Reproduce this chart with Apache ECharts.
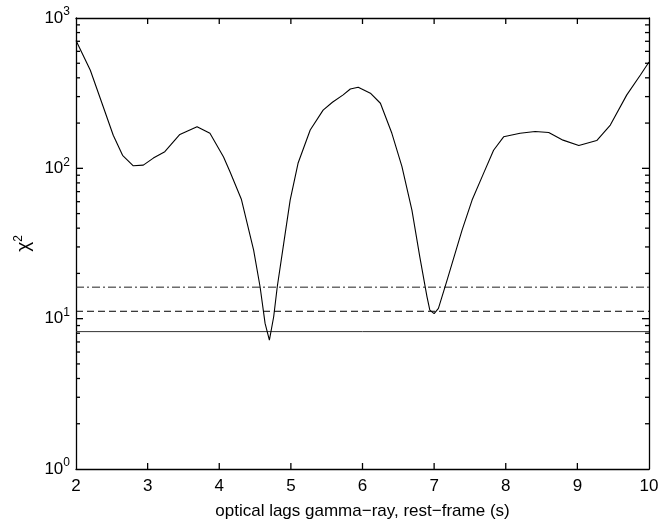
<!DOCTYPE html>
<html>
<head>
<meta charset="utf-8">
<script src="https://cdn.jsdelivr.net/npm/echarts@6/dist/echarts.min.js"></script>
<style>
  html, body { margin: 0; padding: 0; background: #fff; }
  #chart { width: 662px; height: 527px; }
</style>
</head>
<body>
<div id="chart"></div>
<script>
  // lag (s) and chi^2
  const lagX = [2.00, 2.20, 2.38, 2.52, 2.65, 2.80, 2.94, 3.08, 3.24, 3.45, 3.69, 3.87, 4.06, 4.15, 4.31, 4.48, 4.57, 4.64, 4.70, 4.76, 4.81, 4.90, 4.99, 5.10, 5.27, 5.45, 5.58, 5.73, 5.83, 5.94, 6.11, 6.25, 6.41, 6.55, 6.69, 6.80, 6.90, 6.94, 7.00, 7.06, 7.18, 7.39, 7.53, 7.69, 7.83, 7.97, 8.20, 8.41, 8.60, 8.80, 9.02, 9.27, 9.46, 9.69, 9.88, 10.0];
  const chi2 = [708, 449, 257, 166, 122, 104, 105, 117, 129, 168, 189, 171, 119, 95, 62, 28.6, 16.3, 9.3, 7.2, 10.3, 16.3, 31.7, 61.5, 108, 180, 244, 275, 308, 337, 346, 316, 271, 171, 103, 52.7, 25.8, 14, 11.4, 10.8, 11.7, 18, 38.8, 61.5, 92.6, 132, 162, 171, 176, 173, 154, 142, 153, 194, 308, 418, 510];

  // confidence levels (solid, dashed, dash-dot)
  const levels = [8.2, 11.2, 16.2];
  const xTicks = [2, 3, 4, 5, 6, 7, 8, 9, 10];
  const yMajor = [10, 100];
  const yMinor = [2, 3, 4, 5, 6, 7, 8, 9, 20, 30, 40, 50, 60, 70, 80, 90, 200, 300, 400, 500, 600, 700, 800, 900];

  const font = 'Liberation Sans, Arial, Helvetica, sans-serif';
  let chart = echarts.init(document.getElementById('chart'));

  const levelStyles = [
    { type: 'solid', color: '#333' },
    { type: [7, 4], color: '#000' },
    { type: [8, 3, 2, 3], color: '#222' }
  ];

  const xMin = xTicks[0], xMax = xTicks[xTicks.length - 1];
  const yMin = 1, yMax = 1000;

  const series = [
    {
      type: 'line',
      xAxisIndex: 0, yAxisIndex: 0,
      data: lagX.map((x, i) => [x, chi2[i]]),
      showSymbol: false,
      lineStyle: { color: '#000', width: 1.1 },
      z: 5
    }
  ];
  levels.forEach((v, i) => {
    series.push({
      type: 'line',
      xAxisIndex: 0, yAxisIndex: 0,
      data: [[xMin, v], [xMax, v]],
      showSymbol: false,
      lineStyle: { color: levelStyles[i].color, width: 1, type: levelStyles[i].type },
      z: 3
    });
  });

  const tickStyle = { stroke: '#000', lineWidth: 1.3 };

  // y ticks on left and right edges (major 7px, minor 4px)
  series.push({
    type: 'custom',
    coordinateSystem: 'cartesian2d',
    xAxisIndex: 0, yAxisIndex: 0,
    data: yMinor.map(v => [xMin, v]).concat(yMajor.map(v => [xMin, v])),
    renderItem: function (params, api) {
      let v = api.value(1);
      let len = params.dataIndex >= yMinor.length ? 7 : 4;
      let l = api.coord([xMin, v]);
      let r = api.coord([xMax, v]);
      return {
        type: 'group',
        children: [
          { type: 'line', shape: { x1: l[0], y1: l[1], x2: l[0] + len, y2: l[1] }, style: tickStyle },
          { type: 'line', shape: { x1: r[0], y1: r[1], x2: r[0] - len, y2: r[1] }, style: tickStyle }
        ]
      };
    },
    silent: true, clip: false,
    z: 6
  });
  // x ticks on bottom and top edges
  series.push({
    type: 'custom',
    coordinateSystem: 'cartesian2d',
    xAxisIndex: 0, yAxisIndex: 0,
    data: xTicks.slice(1, -1).map(x => [x, yMin]),
    renderItem: function (params, api) {
      let x = api.value(0);
      let b = api.coord([x, yMin]);
      let t = api.coord([x, yMax]);
      return {
        type: 'group',
        children: [
          { type: 'line', shape: { x1: b[0], y1: b[1], x2: b[0], y2: b[1] - 6 }, style: tickStyle },
          { type: 'line', shape: { x1: t[0], y1: t[1], x2: t[0], y2: t[1] + 6 }, style: tickStyle }
        ]
      };
    },
    silent: true, clip: false,
    z: 6
  });

  const option = {
    backgroundColor: '#fff',
    animation: false,
    grid: { left: 76, right: 13, top: 18, bottom: 58, containLabel: false },
    xAxis: [{
      type: 'value',
      min: xMin, max: xMax, interval: 1,
      position: 'bottom',
      name: 'optical lags gamma\u2212ray, rest\u2212frame (s)',
      nameLocation: 'middle',
      nameGap: 34,
      nameTextStyle: { color: '#000', fontSize: 17, fontFamily: font },
      axisLine: { show: true, lineStyle: { color: '#000', width: 1.3 } },
      axisTick: { show: false },
      axisLabel: { color: '#000', fontSize: 17, fontFamily: font, margin: 9 },
      splitLine: { show: false }
    }, {
      type: 'value',
      min: xMin, max: xMax, interval: 1,
      position: 'top',
      axisLine: { show: true, lineStyle: { color: '#000', width: 1.3 } },
      axisTick: { show: false },
      axisLabel: { show: false },
      splitLine: { show: false }
    }],
    yAxis: [{
      type: 'log',
      logBase: 10,
      min: yMin, max: yMax,
      position: 'left',
      name: '{a|\u03c7}{s|2}',
      nameLocation: 'middle',
      nameGap: 36,
      nameRotate: 90,
      nameTextStyle: {
        color: '#000', fontFamily: font,
        rich: {
          a: { fontSize: 19, fontFamily: font, color: '#000' },
          s: { fontSize: 12, fontFamily: font, color: '#000', verticalAlign: 'top', padding: [0, 0, 10, 0] }
        }
      },
      axisLine: { show: true, lineStyle: { color: '#000', width: 1.3 } },
      axisTick: { show: false },
      axisLabel: {
        margin: 6,
        formatter: function (v) {
          return '{b|10}{s|' + Math.round(Math.log10(v)) + '}';
        },
        rich: {
          b: { fontSize: 17, fontFamily: font, color: '#000' },
          s: { fontSize: 12, fontFamily: font, color: '#000', padding: [0, 0, 12, 0] }
        }
      },
      splitLine: { show: false }
    }, {
      type: 'log',
      logBase: 10,
      min: yMin, max: yMax,
      position: 'right',
      axisLine: { show: true, lineStyle: { color: '#000', width: 1.3 } },
      axisTick: { show: false },
      axisLabel: { show: false },
      splitLine: { show: false }
    }],
    series: series
  };

  chart.setOption(option);
</script>
</body>
</html>
